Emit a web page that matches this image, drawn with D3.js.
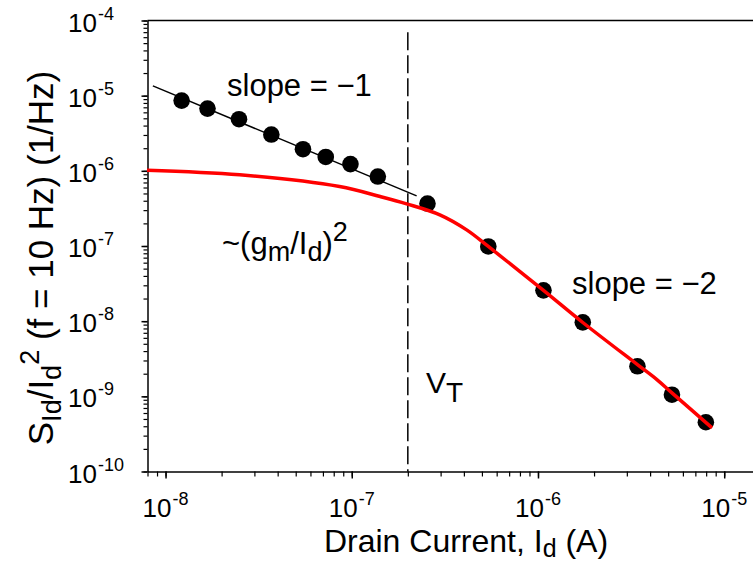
<!DOCTYPE html>
<html>
<head>
<meta charset="utf-8">
<script src="https://cdn.jsdelivr.net/npm/d3@7"></script>
<style>
  body { margin: 0; background: #fff; }
  svg { display: block; font-family: "Liberation Sans", Arial, sans-serif; }
</style>
</head>
<body>
<svg id="chart" width="753" height="564"></svg>
<script>
// measured points (drain current in A, normalized noise in 1/Hz)
const dotCurrent = [1.22e-8, 1.68e-8, 2.48e-8, 3.70e-8, 5.47e-8, 7.25e-8, 9.84e-8, 1.38e-7,
                    2.55e-7, 5.41e-7, 1.07e-6, 1.74e-6, 3.42e-6, 5.24e-6, 7.97e-6];
const dotNoise = [8.6e-6, 6.73e-6, 4.86e-6, 3.04e-6, 1.94e-6, 1.53e-6, 1.23e-6, 8.4e-7,
                  3.67e-7, 9.86e-8, 2.57e-8, 9.64e-9, 2.51e-9, 1.05e-9, 4.52e-10];

// (gm/Id)^2 curve
const curveCurrent = [7.95e-9, 2.5e-8, 8.6e-8, 1.42e-7, 1.97e-7, 2.97e-7, 4.14e-7, 5.41e-7,
                      1.07e-6, 1.74e-6, 3.42e-6, 4.35e-6, 5.24e-6, 8.6e-6];
const curveNoise = [1.02e-6, 8.85e-7, 6.18e-7, 4.55e-7, 3.64e-7, 2.6e-7, 1.64e-7, 9.86e-8,
                    2.57e-8, 9.6e-9, 2.64e-9, 1.67e-9, 1.11e-9, 3.81e-10];

// slope = -1 fit line end points
const fitCurrent = [8.55e-9, 2.23e-7];
const fitNoise = [1.35e-5, 4.65e-7];

const vtCurrent = 2e-7;
const xTickExp = [-8, -7, -6, -5];
const yTickExp = [-4, -5, -6, -7, -8, -9, -10];

const svg = d3.select("#chart");

const x = d3.scaleLog().domain([8e-9, 1.5e-5]).range([147.5, 757]);
const y = d3.scaleLog().domain([1e-10, 1e-4]).range([471.5, 20.5]);

// minor / major tick values
function logTicks(lo, hi) {
  let out = [];
  for (let e = lo; e <= hi; e++) {
    for (let m = 1; m <= 9; m++) out.push(m * Math.pow(10, e));
  }
  return out;
}
const xMinor = logTicks(-9, -5).filter(v => v >= 8e-9 && v <= 1.5e-5);
const yMinor = logTicks(-10, -5).concat([1e-4]);

// y axis
svg.append("g")
  .attr("transform", "translate(147.5,0)")
  .call(d3.axisLeft(y).tickValues(yMinor).tickSize(4).tickSizeOuter(0).tickFormat(""))
  .call(g => g.selectAll("line").attr("stroke-width", 1.2))
  .call(g => g.select(".domain").attr("stroke-width", 1.5));
svg.append("g")
  .attr("transform", "translate(147.5,0)")
  .call(d3.axisLeft(y).tickValues(yTickExp.map(e => Math.pow(10, e))).tickSize(6).tickSizeOuter(0).tickFormat(""))
  .call(g => g.select(".domain").remove())
  .call(g => g.selectAll("line").attr("stroke-width", 1.5));

// x axis
svg.append("g")
  .attr("transform", "translate(0,471.5)")
  .call(d3.axisBottom(x).tickValues(xMinor).tickSize(5).tickSizeOuter(0).tickFormat(""))
  .call(g => g.selectAll("line").attr("stroke-width", 1.2))
  .call(g => g.select(".domain").attr("stroke-width", 1.5));
svg.append("g")
  .attr("transform", "translate(0,471.5)")
  .call(d3.axisBottom(x).tickValues(xTickExp.map(e => Math.pow(10, e))).tickSize(7).tickSizeOuter(0).tickFormat(""))
  .call(g => g.select(".domain").remove())
  .call(g => g.selectAll("line").attr("stroke-width", 1.5));

// top frame line
svg.append("line")
  .attr("x1", 147.5).attr("x2", 753)
  .attr("y1", y(1e-4)).attr("y2", y(1e-4))
  .attr("stroke", "#000").attr("stroke-width", 1.5);

// tick labels
svg.append("g").selectAll("text")
  .data(xTickExp)
  .join("text")
  .attr("x", d => x(Math.pow(10, d)))
  .attr("y", 517)
  .attr("text-anchor", "middle")
  .attr("font-size", 26)
  .each(function (d) {
    let t = d3.select(this);
    t.append("tspan").text("10");
    t.append("tspan").attr("dy", -12).attr("dx", 1).attr("font-size", 18).text(d);
  });

svg.append("g").selectAll("text")
  .data(yTickExp)
  .join("text")
  .attr("x", 68)
  .attr("y", d => y(Math.pow(10, d)) + 11)
  .attr("font-size", 26)
  .each(function (d) {
    let t = d3.select(this);
    t.append("tspan").text("10");
    t.append("tspan").attr("dy", -12).attr("dx", 1).attr("font-size", 18).text(d);
  });

// V_T dashed line
svg.append("line")
  .attr("x1", x(vtCurrent)).attr("x2", x(vtCurrent))
  .attr("y1", y(7e-5)).attr("y2", y(1e-10))
  .attr("stroke", "#000").attr("stroke-width", 1.5)
  .attr("stroke-dasharray", "18,5");

// slope -1 line
const line = d3.line().x(d => x(d[0])).y(d => y(d[1]));
svg.append("path")
  .datum(d3.zip(fitCurrent, fitNoise))
  .attr("d", line)
  .attr("fill", "none")
  .attr("stroke", "#000")
  .attr("stroke-width", 1.5);

// measured dots
svg.append("g").selectAll("circle")
  .data(d3.zip(dotCurrent, dotNoise))
  .join("circle")
  .attr("cx", d => x(d[0]))
  .attr("cy", d => y(d[1]))
  .attr("r", 8.3)
  .attr("fill", "#000");

// red (gm/Id)^2 curve
svg.append("path")
  .datum(d3.zip(curveCurrent, curveNoise))
  .attr("d", line.curve(d3.curveCatmullRom))
  .attr("fill", "none")
  .attr("stroke", "#ff0000")
  .attr("stroke-width", 3.5);

// annotations
svg.append("text").attr("x", 227).attr("y", 96).attr("font-size", 31).text("slope = \u22121");
svg.append("text").attr("x", 572).attr("y", 294).attr("font-size", 31).text("slope = \u22122");

let gm = svg.append("text").attr("x", 222).attr("y", 254).attr("font-size", 31);
gm.append("tspan").text("~(g");
gm.append("tspan").attr("dy", 7).attr("font-size", 27).text("m");
gm.append("tspan").attr("dy", -7).text("/I");
gm.append("tspan").attr("dy", 7).attr("font-size", 27).text("d");
gm.append("tspan").attr("dy", -7).text(")");
gm.append("tspan").attr("dy", -13).attr("font-size", 27).text("2");

let vt = svg.append("text").attr("x", 426).attr("y", 393).attr("font-size", 30);
vt.append("tspan").text("V");
vt.append("tspan").attr("dy", 9).attr("font-size", 28).text("T");

// axis titles
let xt = svg.append("text").attr("x", 466).attr("y", 552).attr("text-anchor", "middle").attr("font-size", 32);
xt.append("tspan").text("Drain Current, I");
xt.append("tspan").attr("dy", 5).attr("font-size", 25).text("d");
xt.append("tspan").attr("dy", -5).text(" (A)");

let yt = svg.append("text")
  .attr("transform", "translate(53,258) rotate(-90)")
  .attr("text-anchor", "middle")
  .attr("font-size", 35);
yt.append("tspan").text("S");
yt.append("tspan").attr("dy", 8).attr("font-size", 27).text("Id");
yt.append("tspan").attr("dy", -8).text("/I");
yt.append("tspan").attr("dy", 8).attr("font-size", 27).text("d");
yt.append("tspan").attr("dy", -22).attr("font-size", 27).text("2");
yt.append("tspan").attr("dy", 14).text(" (f = 10 Hz) (1/Hz)");
</script>
</body>
</html>
